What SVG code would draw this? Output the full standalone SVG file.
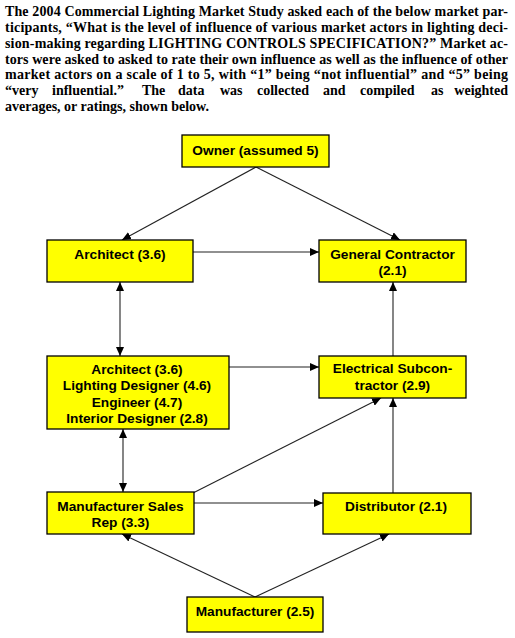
<svg xmlns="http://www.w3.org/2000/svg" width="515" height="638" viewBox="0 0 515 638">
<style>
.hdr{font-family:"Liberation Serif","Times New Roman",serif;font-weight:bold;font-size:14px;fill:#000}
.box{fill:#FFFF00;stroke:#000;stroke-width:1.3}
.lbl{font-family:"Liberation Sans",Arial,sans-serif;font-weight:bold;font-size:13.7px;fill:#000;text-anchor:middle}
.con{stroke:#222;stroke-width:1.1;fill:none}
</style>
<defs>
<marker id="ah" markerUnits="userSpaceOnUse" markerWidth="10" markerHeight="8" refX="9" refY="4" orient="auto-start-reverse">
<path d="M0,0 L9,4 L0,8 Z" fill="#000"/>
</marker>
</defs>
<g id="header">
<text class="hdr" x="5" y="16" textLength="503" lengthAdjust="spacing">The 2004 Commercial Lighting Market Study asked each of the below market par-</text>
<text class="hdr" x="5" y="31.8" textLength="503" lengthAdjust="spacing">ticipants, “What is the level of influence of various market actors in lighting deci-</text>
<text class="hdr" x="5" y="47.7" textLength="503" lengthAdjust="spacing">sion-making regarding LIGHTING CONTROLS SPECIFICATION?” Market ac-</text>
<text class="hdr" x="5" y="63.5" textLength="503" lengthAdjust="spacing">tors were asked to asked to rate their own influence as well as the influence of other</text>
<text class="hdr" x="5" y="79.3" textLength="503" lengthAdjust="spacing">market actors on a scale of 1 to 5, with “1” being “not influential” and “5” being</text>
<text class="hdr" y="95.2"><tspan x="5">“very</tspan><tspan x="52">influential.”</tspan><tspan x="142">The</tspan><tspan x="178">data</tspan><tspan x="220">was</tspan><tspan x="257">collected</tspan><tspan x="323">and</tspan><tspan x="360">compiled</tspan><tspan x="431">as</tspan></text>
<text class="hdr" x="508" y="95.2" text-anchor="end">weighted</text>
<text class="hdr" x="5" y="111">averages, or ratings, shown below.</text>
</g>
<g id="connectors">
<line class="con" x1="256" y1="167" x2="122" y2="240" marker-end="url(#ah)"/>
<line class="con" x1="256" y1="167" x2="400" y2="240" marker-end="url(#ah)"/>
<line class="con" x1="193" y1="252" x2="319" y2="252" marker-end="url(#ah)"/>
<line class="con" x1="120" y1="282" x2="120" y2="356" marker-start="url(#ah)" marker-end="url(#ah)"/>
<line class="con" x1="229" y1="367" x2="319" y2="367" marker-end="url(#ah)"/>
<line class="con" x1="393" y1="356" x2="393" y2="282" marker-end="url(#ah)"/>
<line class="con" x1="123" y1="429" x2="123" y2="492" marker-start="url(#ah)" marker-end="url(#ah)"/>
<line class="con" x1="193" y1="493" x2="381" y2="398" marker-end="url(#ah)"/>
<line class="con" x1="194" y1="503" x2="323" y2="503" marker-end="url(#ah)"/>
<line class="con" x1="393" y1="493" x2="393" y2="398" marker-end="url(#ah)"/>
<line class="con" x1="255" y1="597" x2="122" y2="534" marker-end="url(#ah)"/>
<line class="con" x1="255" y1="597" x2="389" y2="534" marker-end="url(#ah)"/>
</g>
<g id="owner">
<rect class="box" x="182" y="135" width="147" height="32"/>
<text class="lbl" x="255.5" y="155">Owner (assumed 5)</text>
</g>
<g id="architect">
<rect class="box" x="47" y="240" width="146" height="42"/>
<text class="lbl" x="120" y="259">Architect (3.6)</text>
</g>
<g id="general-contractor">
<rect class="box" x="319" y="240" width="147" height="42"/>
<text class="lbl" x="392.5" y="259">General Contractor</text>
<text class="lbl" x="392.5" y="275">(2.1)</text>
</g>
<g id="design-group">
<rect class="box" x="47" y="356" width="182" height="73"/>
<text class="lbl" x="137" y="374">Architect (3.6)</text>
<text class="lbl" x="137" y="390">Lighting Designer (4.6)</text>
<text class="lbl" x="137" y="407">Engineer (4.7)</text>
<text class="lbl" x="137" y="423">Interior Designer (2.8)</text>
</g>
<g id="electrical-subcontractor">
<rect class="box" x="319" y="356" width="147" height="42"/>
<text class="lbl" x="392.5" y="373">Electrical Subcon-</text>
<text class="lbl" x="392.5" y="390">tractor (2.9)</text>
</g>
<g id="manufacturer-sales-rep">
<rect class="box" x="47" y="492" width="147" height="42"/>
<text class="lbl" x="120.5" y="511">Manufacturer Sales</text>
<text class="lbl" x="120.5" y="527">Rep (3.3)</text>
</g>
<g id="distributor">
<rect class="box" x="323" y="493" width="148" height="41"/>
<text class="lbl" x="396" y="511">Distributor (2.1)</text>
</g>
<g id="manufacturer">
<rect class="box" x="187" y="597" width="136" height="35"/>
<text class="lbl" x="255" y="616">Manufacturer (2.5)</text>
</g>
</svg>
